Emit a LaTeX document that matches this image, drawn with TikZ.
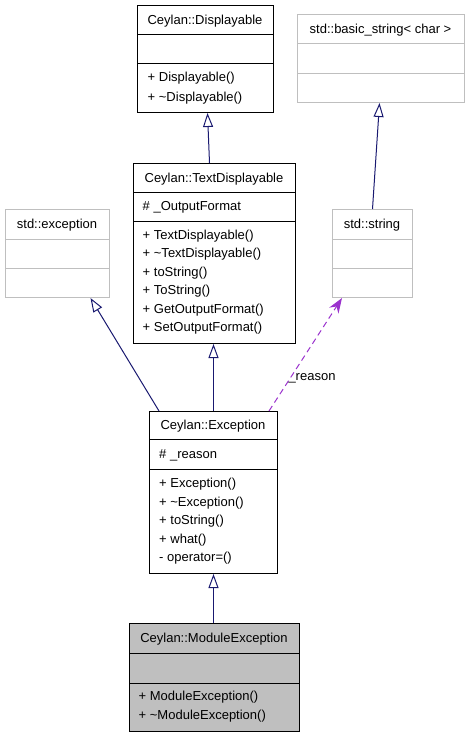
\documentclass[tikz,border=0pt]{standalone}
\usepackage{fontspec}
\setmainfont{Liberation Sans}
\usetikzlibrary{arrows.meta,calc}
\definecolor{edgeblue}{HTML}{191970}
\definecolor{refpurple}{HTML}{9A32CD}
\definecolor{boxgray}{HTML}{BFBFBF}

\begin{document}
\begin{tikzpicture}[x=1pt,y=-1pt,
    cls/.style={draw=black,line width=1pt,rectangle,inner sep=0pt,anchor=north west},
    ext/.style={cls,draw=boxgray},
    title/.style={inner sep=0pt,anchor=base,font=\fontsize{13}{15}\selectfont},
    member/.style={title,anchor=base west},
    inherit/.style={draw=edgeblue,line width=1pt,-{Triangle[open,length=14pt,width=10pt]}},
    uses/.style={draw=refpurple,line width=1pt,dash pattern=on 6pt off 4pt,-{Stealth[length=15pt,width=11pt]}}]
    \useasboundingbox (0,0) rectangle (468,736);

    % class boxes
    \node[cls,minimum width=136pt,minimum height=107pt] (disp) at (137,5) {};
    \node[ext,minimum width=167pt,minimum height=88pt] (bstr) at (297,14) {};
    \node[cls,minimum width=162pt,minimum height=180pt] (tdisp) at (133,163) {};
    \node[ext,minimum width=104pt,minimum height=88pt] (sexc) at (5,209) {};
    \node[ext,minimum width=80pt,minimum height=88pt] (sstr) at (332,209) {};
    \node[cls,minimum width=128pt,minimum height=162pt] (exc) at (149,411) {};
    \node[cls,fill=boxgray,minimum width=170pt,minimum height=108pt] (modexc) at (129,623) {};

    % compartments
    \draw[line width=1pt] ($(disp.north west)+(0,29)$) -- ($(disp.north east)+(0,29)$);
    \draw[line width=1pt] ($(disp.north west)+(0,58)$) -- ($(disp.north east)+(0,58)$);
    \draw[line width=1pt,boxgray] ($(bstr.north west)+(0,29)$) -- ($(bstr.north east)+(0,29)$);
    \draw[line width=1pt,boxgray] ($(bstr.north west)+(0,59)$) -- ($(bstr.north east)+(0,59)$);
    \draw[line width=1pt] ($(tdisp.north west)+(0,29)$) -- ($(tdisp.north east)+(0,29)$);
    \draw[line width=1pt] ($(tdisp.north west)+(0,58)$) -- ($(tdisp.north east)+(0,58)$);
    \draw[line width=1pt,boxgray] ($(sexc.north west)+(0,30)$) -- ($(sexc.north east)+(0,30)$);
    \draw[line width=1pt,boxgray] ($(sexc.north west)+(0,59)$) -- ($(sexc.north east)+(0,59)$);
    \draw[line width=1pt,boxgray] ($(sstr.north west)+(0,30)$) -- ($(sstr.north east)+(0,30)$);
    \draw[line width=1pt,boxgray] ($(sstr.north west)+(0,59)$) -- ($(sstr.north east)+(0,59)$);
    \draw[line width=1pt] ($(exc.north west)+(0,28)$) -- ($(exc.north east)+(0,28)$);
    \draw[line width=1pt] ($(exc.north west)+(0,58)$) -- ($(exc.north east)+(0,58)$);
    \draw[line width=1pt] ($(modexc.north west)+(0,30)$) -- ($(modexc.north east)+(0,30)$);
    \draw[line width=1pt] ($(modexc.north west)+(0,60)$) -- ($(modexc.north east)+(0,60)$);

    % titles
    \node[title] (dispname) at (205,24) {Ceylan::Displayable};
    \node[title] (bstrname) at (380.5,33) {std::basic\_string< char >};
    \node[title] (tdispname) at (214,182) {Ceylan::TextDisplayable};
    \node[title] (sexcname) at (57,228.5) {std::exception};
    \node[title] (sstrname) at (372,228.5) {std::string};
    \node[title] (excname) at (213,429.5) {Ceylan::Exception};
    \node[title] (modexcname) at (214,642.5) {Ceylan::ModuleException};

    % members
    \node[member] (disp1) at (147.5,81.5) {+ Displayable()};
    \node[member] (disp2) at (147.5,101) {+ \textasciitilde Displayable()};
    \node[member] (tdispattr) at (142.5,210) {\# \_OutputFormat};
    \node[member] (tdisp1) at (142.5,239) {+ TextDisplayable()};
    \node[member] (tdisp2) at (142.5,257.5) {+ \textasciitilde TextDisplayable()};
    \node[member] (tdisp3) at (142.5,276) {+ toString()};
    \node[member] (tdisp4) at (142.5,294.5) {+ ToString()};
    \node[member] (tdisp5) at (142.5,313) {+ GetOutputFormat()};
    \node[member] (tdisp6) at (142.5,331.5) {+ SetOutputFormat()};
    \node[member] (excattr) at (159,458) {\# \_reason};
    \node[member] (exc1) at (159,487.5) {+ Exception()};
    \node[member] (exc2) at (159,506) {+ \textasciitilde Exception()};
    \node[member] (exc3) at (159,524.5) {+ toString()};
    \node[member] (exc4) at (159,543) {+ what()};
    \node[member] (exc5) at (159,561.5) {- operator=()};
    \node[member] (modexc1) at (138.5,700) {+ ModuleException()};
    \node[member] (modexc2) at (138.5,719) {+ \textasciitilde ModuleException()};

    % connectors
    \draw[inherit] ($(tdisp.north)+(-5,0)$) -- ($(disp.south)+(2,0)$);
    \draw[inherit] (sstr.north) -- ($(bstr.south)+(-1.5,0)$);
    \draw[inherit] (exc.north) -- (exc.north |- tdisp.south);
    \draw[inherit] ($(exc.north west)+(10,0)$) -- ($(sexc.south)+(33,0)$);
    \draw[inherit] ($(modexc.north)+(-1,0)$) -- (exc.south);
    \draw[uses] ($(exc.north east)+(-9,0)$) -- ($(sstr.south west)+(10,0)$);
    \node[title] (reasonlbl) at (312,380) {\_reason};
\end{tikzpicture}
\end{document}
